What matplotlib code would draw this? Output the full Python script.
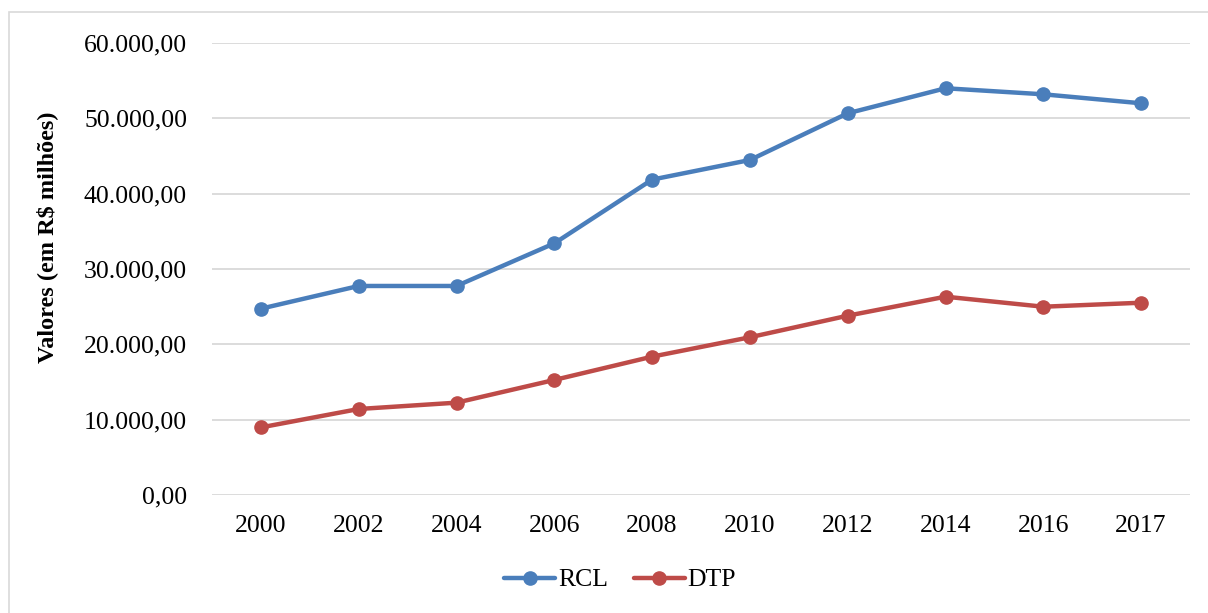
import matplotlib
matplotlib.use("Agg")
import matplotlib.pyplot as plt
from matplotlib.patches import Rectangle
from matplotlib.ticker import FuncFormatter

plt.rcParams["font.family"] = ["Liberation Serif", "DejaVu Serif"]

years = ["2000", "2002", "2004", "2006", "2008", "2010", "2012", "2014", "2016", "2017"]
rcl = [24740, 27750, 27750, 33400, 41850, 44450, 50640, 53960, 53160, 51970]
dtp = [9000, 11440, 12280, 15290, 18380, 20950, 23810, 26330, 25000, 25530]

blue = "#4A7EBB"
red = "#BE4B48"

fig = plt.figure(figsize=(12.08, 6.13), dpi=100)
ax = fig.add_axes([212 / 1208, 1 - 495.3 / 613, (1190 - 212) / 1208, (495.3 - 42.7) / 613])

x = list(range(len(years)))
ax.plot(x, rcl, color=blue, lw=3.2, marker="o", ms=9.5, label="RCL", solid_capstyle="round")
ax.plot(x, dtp, color=red, lw=3.2, marker="o", ms=9.5, label="DTP", solid_capstyle="round")

ax.set_xlim(-0.5, len(years) - 0.5)
ax.set_ylim(0, 60000)
ax.set_yticks(range(0, 60001, 10000))
ax.yaxis.set_major_formatter(FuncFormatter(lambda v, p: f"{v:,.2f}".replace(",", "X").replace(".", ",").replace("X", ".")))
ax.set_xticks(x)
ax.set_xticklabels(years)
ax.tick_params(axis="both", length=0, labelsize=18.5, colors="#000000")
ax.tick_params(axis="y", pad=18)
ax.tick_params(axis="x", pad=14)
ax.grid(axis="y", color="#D9D9D9", lw=1.3)
ax.set_axisbelow(True)
for s in ax.spines.values():
    s.set_visible(False)

ax.set_ylabel("Valores (em R$ milhões)", fontsize=17.5, fontweight="bold")
ax.yaxis.set_label_coords(-0.1575, 0.57)

leg = fig.legend(loc="center", bbox_to_anchor=(620 / 1208, 1 - 580 / 613), ncol=2, frameon=False,
                 fontsize=18.5, handlelength=2.0, handletextpad=0.1, columnspacing=1.0)

# thin frame around the chart area (left and top edges visible)
fig.patches.append(Rectangle((9 / 1208, -0.05), 1.2, 1 - 12 / 613 + 0.05, transform=fig.transFigure,
                             fill=False, edgecolor="#D9D9D9", lw=1.2))

fig.savefig("out.png", dpi=100, facecolor="white")
